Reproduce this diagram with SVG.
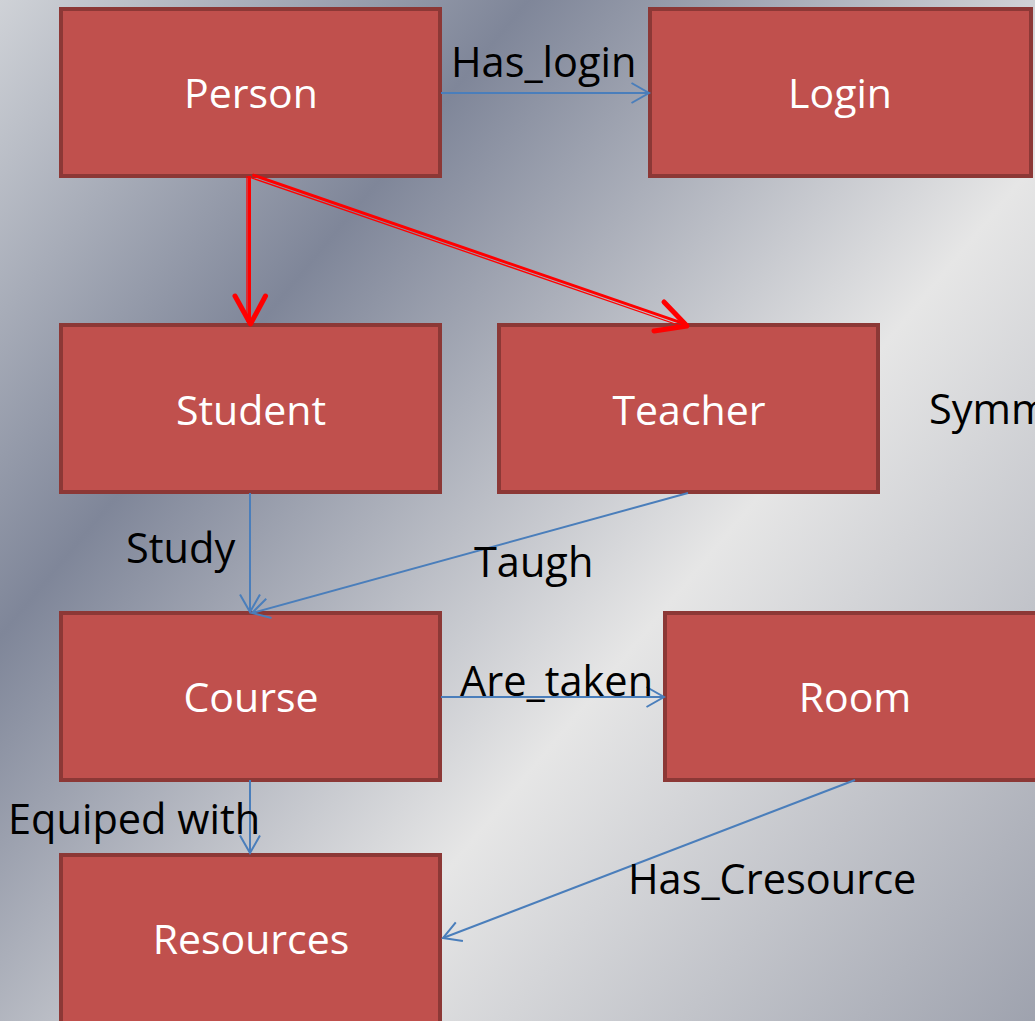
<svg xmlns="http://www.w3.org/2000/svg" width="1035" height="1021" viewBox="0 0 1035 1021">
  <defs>
    <linearGradient id="bg" gradientUnits="userSpaceOnUse" x1="0" y1="0" x2="1117" y2="928">
      <stop offset="0" stop-color="#cfd2d7"/>
      <stop offset="0.28" stop-color="#7f8699"/>
      <stop offset="0.62" stop-color="#e6e6e6"/>
      <stop offset="1" stop-color="#9ea2ae"/>
    </linearGradient>
    <marker id="open" markerUnits="userSpaceOnUse" markerWidth="24" markerHeight="24" viewBox="-20 -12 24 24" refX="0" refY="0" orient="auto">
      <path d="M -17.5 -10 L 0 0 L -17.5 10" fill="none" stroke="#4a7ebb" stroke-width="2"/>
    </marker>
    <style>
      .node rect { fill: #c0504d; stroke: #8c3836; stroke-width: 4; }
      .node text { fill: #ffffff; font-family: "Open Sans", "Noto Sans", sans-serif; font-size: 41px; text-anchor: middle; }
      .lbl { fill: #000000; font-family: "Open Sans", "Noto Sans", sans-serif; font-size: 41.5px; }
      .blue { fill: none; stroke: #4a7ebb; stroke-width: 2; marker-end: url(#open); }
      .redthick { fill: none; stroke: #ff0000; stroke-width: 3; }
      .redthin { fill: none; stroke: #ff0000; stroke-width: 1.3; }
      .redhead { fill: none; stroke: #ff0000; stroke-width: 5; stroke-linecap: round; stroke-linejoin: round; }
    </style>
  </defs>

  <rect x="0" y="0" width="1035" height="1021" fill="url(#bg)"/>

  <g id="person" class="node">
    <rect x="61" y="9" width="379" height="167"/>
    <text x="251" y="108">Person</text>
  </g>
  <g id="login" class="node">
    <rect x="650" y="9" width="381" height="167"/>
    <text x="840" y="108">Login</text>
  </g>
  <g id="student" class="node">
    <rect x="61" y="325" width="379" height="167"/>
    <text x="251" y="425">Student</text>
  </g>
  <g id="teacher" class="node">
    <rect x="499" y="325" width="379" height="167"/>
    <text x="689" y="425">Teacher</text>
  </g>
  <g id="course" class="node">
    <rect x="61" y="613" width="379" height="167"/>
    <text x="251" y="712">Course</text>
  </g>
  <g id="room" class="node">
    <rect x="665" y="613" width="385" height="167"/>
    <text x="855" y="712">Room</text>
  </g>
  <g id="resources" class="node">
    <rect x="61" y="855" width="379" height="180"/>
    <text x="251" y="954">Resources</text>
  </g>

  <g id="connectors">
    <path class="blue" d="M 441 93 L 649 93"/>
    <path class="blue" d="M 250 493 L 250 612"/>
    <path class="blue" d="M 688 493 L 252 613"/>
    <path class="blue" d="M 441 697 L 664 697"/>
    <path class="blue" d="M 250 780 L 250 853"/>
    <path class="blue" d="M 855 780 L 443 938"/>

    <path class="redthick" d="M 249.5 176 L 249.5 322"/>
    <path class="redthin" d="M 247 176 L 247 322"/>
    <path class="redhead" d="M 235 296 L 250.5 324 L 265.5 296"/>

    <path class="redthick" d="M 252.4 174.9 L 687.4 324.9"/>
    <path class="redthin" d="M 251.4 177.8 L 684 327"/>
    <path class="redhead" d="M 664 302 L 687 326 L 654 331"/>
  </g>

  <g id="labels">
    <text class="lbl" x="451" y="77">Has_login</text>
    <text class="lbl" x="929" y="424">Symm</text>
    <text class="lbl" x="126" y="563">Study</text>
    <text class="lbl" x="474" y="577">Taugh</text>
    <text class="lbl" x="460" y="696">Are_taken</text>
    <text class="lbl" x="8" y="834">Equiped with</text>
    <text class="lbl" x="628" y="894">Has_Cresource</text>
  </g>
</svg>
